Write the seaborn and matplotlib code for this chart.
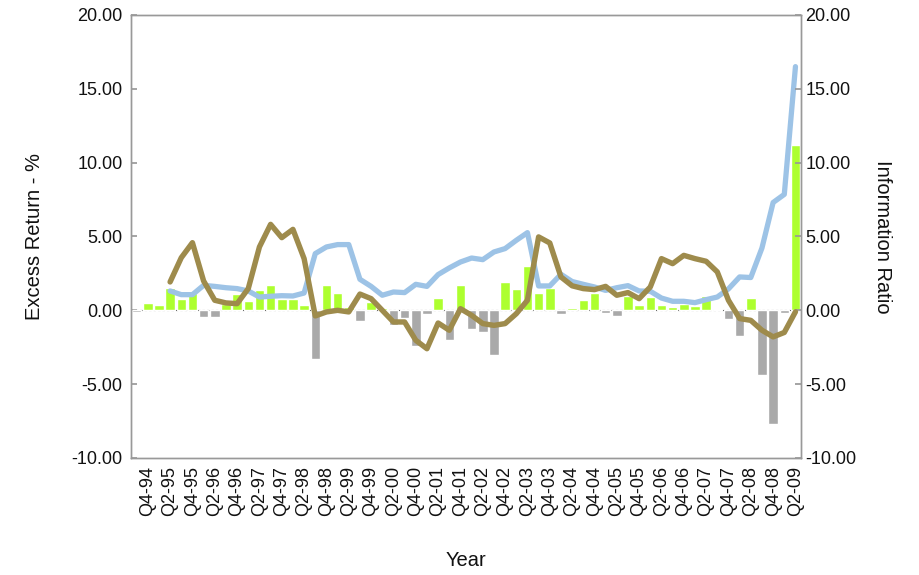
import numpy as np
import pandas as pd
import matplotlib
matplotlib.use('Agg')
import matplotlib.pyplot as plt
import seaborn as sns

sns.set_theme(style='white')
plt.rcParams['font.family'] = ['Liberation Sans', 'DejaVu Sans']

quarters = ['Q3-94', 'Q4-94',
            'Q1-95', 'Q2-95', 'Q3-95', 'Q4-95', 'Q1-96', 'Q2-96', 'Q3-96', 'Q4-96',
            'Q1-97', 'Q2-97', 'Q3-97', 'Q4-97', 'Q1-98', 'Q2-98', 'Q3-98', 'Q4-98',
            'Q1-99', 'Q2-99', 'Q3-99', 'Q4-99', 'Q1-00', 'Q2-00', 'Q3-00', 'Q4-00',
            'Q1-01', 'Q2-01', 'Q3-01', 'Q4-01', 'Q1-02', 'Q2-02', 'Q3-02', 'Q4-02',
            'Q1-03', 'Q2-03', 'Q3-03', 'Q4-03', 'Q1-04', 'Q2-04', 'Q3-04', 'Q4-04',
            'Q1-05', 'Q2-05', 'Q3-05', 'Q4-05', 'Q1-06', 'Q2-06', 'Q3-06', 'Q4-06',
            'Q1-07', 'Q2-07', 'Q3-07', 'Q4-07', 'Q1-08', 'Q2-08', 'Q3-08', 'Q4-08',
            'Q1-09', 'Q2-09']

excess_return = [-0.1, 0.5, 0.38, 1.49, 0.74, 1.2, -0.45, -0.45, 0.4, 1.13,
                 0.63, 1.35, 1.68, 0.74, 0.74, 0.34, -3.28, 1.68, 1.17, 0.2,
                 -0.7, 0.53, 0.15, -0.98, -0.53, -2.4, -0.23, 0.86, -2.02, 1.69,
                 -1.29, -1.47, -3.02, 1.94, 1.42, 2.98, 1.17, 1.54, -0.28, 0.17,
                 0.72, 1.17, -0.18, -0.38, 0.95, 0.34, 0.9, 0.34, 0.23, 0.45,
                 0.27, 0.97, 0.07, -0.58, -1.74, 0.86, -4.36, -7.67, -0.2, 11.17]

tracking = [np.nan, np.nan, np.nan, 1.31, 1.06, 1.06, 1.69, 1.62, 1.53, 1.47,
            1.31, 0.9, 0.95, 0.99, 0.97, 1.17, 3.84, 4.29, 4.45, 4.45,
            2.1, 1.62, 1.02, 1.24, 1.2, 1.76, 1.62, 2.42, 2.87, 3.27,
            3.54, 3.43, 3.95, 4.18, 4.74, 5.26, 1.65, 1.65, 2.44, 1.95,
            1.76, 1.58, 1.35, 1.53, 1.67, 1.31, 1.29, 0.83, 0.61, 0.61,
            0.52, 0.72, 0.9, 1.45, 2.26, 2.22, 4.22, 7.3, 7.85, 16.5]

info_ratio = [np.nan, np.nan, np.nan, 1.92, 3.56, 4.58, 1.99, 0.68, 0.5, 0.45,
              1.47, 4.29, 5.82, 4.92, 5.48, 3.5, -0.38, -0.11, 0.0, -0.11,
              1.1, 0.79, 0.0, -0.79, -0.79, -2.03, -2.6, -0.86, -1.35, 0.11,
              -0.34, -0.9, -1.02, -0.9, -0.23, 0.68, 4.97, 4.56, 2.26, 1.66,
              1.47, 1.4, 1.62, 1.02, 1.2, 0.79, 1.58, 3.5, 3.16, 3.72,
              3.5, 3.32, 2.6, 0.68, -0.56, -0.68, -1.35, -1.8, -1.5, -0.1]

df = pd.DataFrame({'Quarter': quarters, 'Excess': excess_return,
                   'Tracking': tracking, 'IR': info_ratio})
df['pos'] = np.arange(len(df))
df['sign'] = np.where(df['Excess'] >= 0, 'pos', 'neg')

fig, ax = plt.subplots(figsize=(9.2, 5.75), dpi=100)
fig.subplots_adjust(left=0.1424, right=0.8707, top=0.974, bottom=0.2035)

ax.axhline(0, color='#444444', lw=0.8, ls=(0, (2, 2)), zorder=0)
sns.barplot(data=df, x='pos', y='Excess', hue='sign', dodge=False, legend=False,
            palette={'pos': '#adff2f', 'neg': '#a9a9a9'}, width=0.85,
            saturation=1, native_scale=True, ax=ax, zorder=2)
sns.lineplot(data=df, x='pos', y='Tracking', color='#9dc3e6', lw=3.8, ax=ax, zorder=3)

ax2 = ax.twinx()
sns.lineplot(data=df, x='pos', y='IR', color='#9e8b4c', lw=3.9, ax=ax2)

for a in (ax, ax2):
    a.set_ylim(-10, 20)
    a.set_yticks(range(-10, 21, 5))
    a.set_yticklabels([f'{v:.2f}' for v in range(-10, 21, 5)], fontsize=13, color='#111111')
    for s in a.spines.values():
        s.set_color('#999999')
        s.set_linewidth(1)

ax.set_xlim(-0.5, len(quarters) - 0.5)
ax.set_xticks(df['pos'][1::2])
ax.set_xticklabels(df['Quarter'][1::2], rotation=90, fontsize=13, color='#111111')
ax.tick_params(axis='x', length=0, pad=6)
ax.tick_params(axis='y', direction='in', length=4, color='#999999', pad=6, left=True)
ax2.tick_params(axis='y', direction='in', length=4, color='#999999', pad=3, right=True)

ax.set_xlabel('Year', fontsize=14.5, labelpad=25, color='#111111')
ax.set_ylabel('Excess Return - %', fontsize=14.5, labelpad=20, color='#111111')
ax2.set_ylabel('Information Ratio', fontsize=14.5, rotation=270, va='bottom',
               labelpad=12, color='#111111')

fig.savefig('out.png', dpi=100)
